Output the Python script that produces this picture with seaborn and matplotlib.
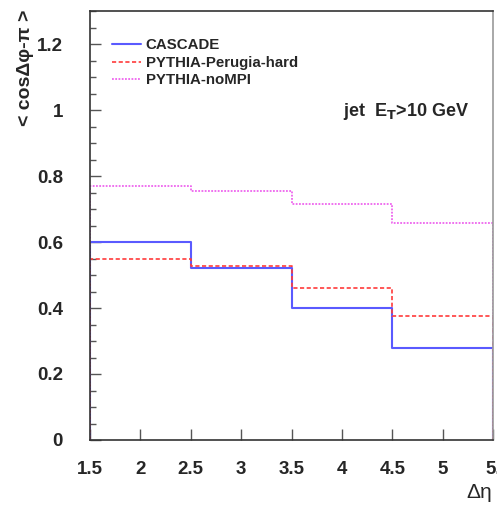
import matplotlib
matplotlib.use("Agg")
import matplotlib.pyplot as plt
import seaborn as sns
import pandas as pd
from matplotlib.ticker import MultipleLocator

bin_edges = [1.5, 2.5, 3.5, 4.5, 5.5]
cascade = [0.60, 0.52, 0.40, 0.28]
perugia = [0.548, 0.527, 0.46, 0.377]
nompi = [0.771, 0.755, 0.714, 0.657]
labels = ["CASCADE", "PYTHIA-Perugia-hard", "PYTHIA-noMPI"]
x_ticks = [1.5, 2, 2.5, 3, 3.5, 4, 4.5, 5, 5.5]
x_tick_labels = ["1.5", "2", "2.5", "3", "3.5", "4", "4.5", "5", "5."]
y_ticks = [0, 0.2, 0.4, 0.6, 0.8, 1, 1.2]
y_tick_labels = ["0", "0.2", "0.4", "0.6", "0.8", "1", "1.2"]

sns.set_style("ticks")
plt.rcParams["font.family"] = ["Liberation Sans", "DejaVu Sans"]

fig = plt.figure(figsize=(4.97, 5.08), dpi=100)
ax = fig.add_axes([90 / 497, 1 - 440 / 508, (493 - 90) / 497, (440 - 11) / 508])


def step_frame(vals, name):
    xs = [bin_edges[0]] + list(bin_edges) + [bin_edges[-1]]
    ys = [0] + list(vals) + [vals[-1], 0]
    return pd.DataFrame({"x": xs, "y": ys, "series": name})


styles = [
    (cascade, labels[0], "#5a5aff", "-", 1.5),
    (perugia, labels[1], "#ff3b3b", (0, (2.5, 1.5)), 1.2),
    (nompi, labels[2], "#ee66ee", (0, (1, 0.8)), 1.3),
]
for vals, name, col, ls, lw in styles:
    df = step_frame(vals, name)
    sns.lineplot(data=df, x="x", y="y", ax=ax, sort=False, estimator=None,
                 drawstyle="steps-post", color=col, linestyle=ls, linewidth=lw,
                 label=name)

ax.set_xlim(1.5, 5.5)
ax.set_ylim(0, 1.3)
ax.set_xticks(x_ticks)
ax.set_xticklabels(x_tick_labels, fontsize=13.5, fontweight="bold")
ax.set_yticks(y_ticks)
ax.set_yticklabels(y_tick_labels, fontsize=13.5, fontweight="bold")
ax.yaxis.set_minor_locator(MultipleLocator(0.05))
ax.tick_params(axis="both", which="major", direction="in", length=8, width=1,
               color="#555555")
ax.tick_params(axis="y", which="minor", direction="in", length=4, width=1,
               color="#555555")
ax.tick_params(axis="y", pad=19.5)
ax.tick_params(axis="x", pad=15)
for s in ax.spines.values():
    s.set_linewidth(1.2)
    s.set_color("#333333")
ax.spines["right"].set_color("#999999")

ax.set_xlabel("")
ax.set_ylabel("")
fig.text(479 / 497, 1 - 493 / 508, "Δη", ha="center", va="center", fontsize=15)
fig.text(25 / 497, 1 - 10 / 508, "< cosΔφ-π >", rotation=90, ha="center",
         va="top", fontsize=14, fontweight="bold")

ax.text(0.627, 0.765, "jet  E$_\\mathbf{T}$>10 GeV", transform=ax.transAxes,
        fontsize=13, fontweight="bold", ha="left", va="center")

leg = ax.legend(loc="upper left", bbox_to_anchor=(0.04, 0.95), frameon=False,
                prop={"weight": "bold", "size": 10.8}, handlelength=1.9,
                handletextpad=0.35, labelspacing=0.22, borderaxespad=0)

fig.savefig("out.png", dpi=100)
